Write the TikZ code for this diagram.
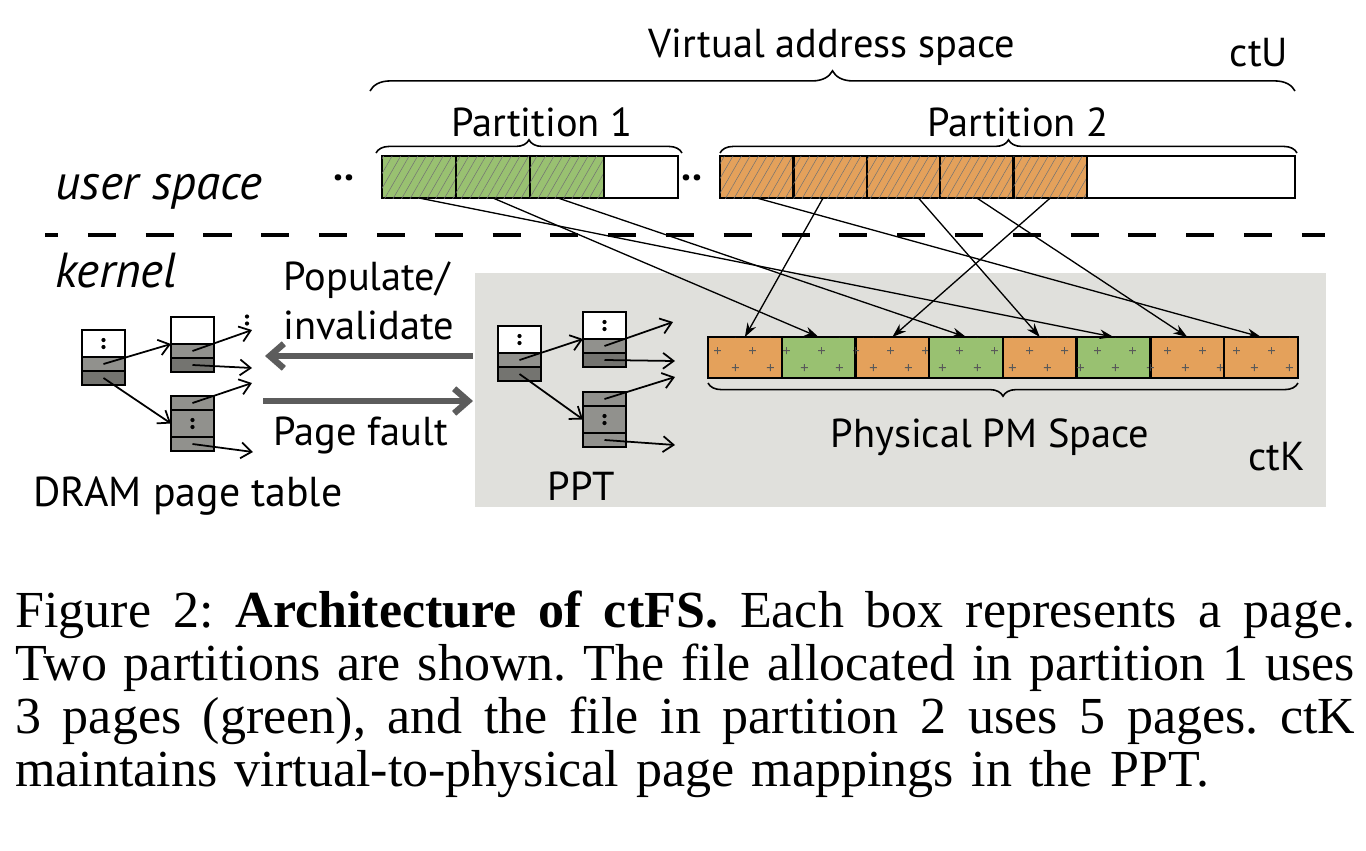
\documentclass[tikz,border=0pt]{standalone}
\usepackage{fontspec}
\setmainfont{PT Sans}
\newfontfamily\capfont{Liberation Serif}
\usetikzlibrary{positioning,arrows.meta,decorations.pathreplacing,patterns.meta}
\tikzset{>=latex}
\definecolor{pgreen}{RGB}{153,193,113}
\definecolor{porange}{RGB}{228,161,91}
\definecolor{kgray}{RGB}{224,224,220}
\definecolor{rowlight}{RGB}{145,145,141}
\definecolor{rowdark}{RGB}{116,116,112}
\definecolor{arrgray}{RGB}{92,92,92}
\newcommand{\capline}[1]{\makebox[26.8cm][s]{\spaceskip=0pt\xspaceskip=0pt #1}}
\tikzdeclarepattern{
  name=pluses, type=uncolored,
  bounding box={(0pt,0pt) and (19.7pt,19.3pt)},
  tile size={(19.7pt,19.3pt)},
  code={
    \draw[line width=0.5pt] (2.8pt,4.8pt) -- (6.8pt,4.8pt) (4.8pt,2.8pt) -- (4.8pt,6.8pt);
    \draw[line width=0.5pt] (12.65pt,14.45pt) -- (16.65pt,14.45pt) (14.65pt,12.45pt) -- (14.65pt,16.45pt);
  }
}

\begin{document}
\begin{tikzpicture}[x=0.02cm,y=-0.02cm]
    \fontsize{23}{27}\selectfont
    \tikzset{
    vpage/.style={draw, line width=1.4pt, minimum width=1.48cm, minimum height=0.84cm, inner sep=0pt, outer sep=0pt, anchor=north west},
    ppage/.style={draw, line width=1.4pt, minimum width=1.475cm, minimum height=0.82cm, inner sep=0pt, outer sep=0pt, anchor=north west, postaction={pattern=pluses, pattern color=black!65}},
    hatch/.style={postaction={pattern={Lines[angle=60,distance=4.2pt,line width=0.3pt]}, pattern color=black!55}},
    cell/.style={draw, line width=1.2pt, minimum width=0.86cm, minimum height=0.28cm, inner sep=0pt, outer sep=0pt},
    tall/.style={minimum height=0.54cm},
    ptr/.style={-{Straight Barb[length=6pt,width=9pt]}, line width=1pt},
    map/.style={-{Stealth[length=8pt,width=5.5pt]}, line width=0.75pt},
    bigarr/.style={draw=arrgray, line width=3.6pt, -{Straight Barb[length=8pt,width=14pt]}},
    bracebig/.style={decorate, decoration={brace, amplitude=11.5pt}, line width=0.9pt},
    bracesmall/.style={decorate, decoration={brace, amplitude=7.5pt}, line width=0.9pt},
    lbl/.style={anchor=base, inner sep=0pt},
    side/.style={lbl, anchor=base west, font=\fontsize{28}{32}\selectfont\itshape},
    }
    \useasboundingbox (0,0) rectangle (1366,850);
    \fill[white] (0,0) rectangle (1366,850);

    % Kernel area (ctK).
    \node[fill=kgray, minimum width=17.02cm, minimum height=4.68cm, inner sep=0pt, anchor=north west] (ctkarea) at (475,273) {};

    % User / kernel border.
    \draw[line width=2.8pt, dash pattern=on 16pt off 16.9pt, dash phase=8.5pt] (45,235) -- (1325,235);

    % Labels.
    \path (832,57)   node[lbl] (vas)   {Virtual address space};
    \path (1259,66)  node[lbl] (ctu)   {ctU};
    \path (542,136)  node[lbl] (part1) {Partition 1};
    \path (1018,136) node[lbl] (part2) {Partition 2};
    \path (55,199)   node[side] (user)  {user space};
    \path (55,287)   node[side] (kern)  {kernel};
    \path (344,180)  node[lbl] (dots1) {\textbf{..}};
    \path (692,180)  node[lbl] (dots2) {\textbf{..}};
    \path (283,290)  node[lbl, anchor=base west] (pop)   {Populate/};
    \path (283,339)  node[lbl, anchor=base west] (inval) {invalidate};
    \path (273,445)  node[lbl, anchor=base west] (pf)    {Page fault};
    \path (33,506)   node[lbl, anchor=base west, font=\fontsize{23.8}{27}\selectfont] (dram) {DRAM page table};
    \path (581,500)  node[lbl] (ppt)   {PPT};
    \path (990,447)  node[lbl] (pms)   {Physical PM Space};
    \path (1248,470) node[lbl, anchor=base west] (ctk)   {ctK};

    % Braces.
    \draw[bracebig]   (370,91)   -- (1295,91);
    \draw[bracesmall] (376,153)  -- (682,153);
    \draw[bracesmall] (720,153)  -- (1297,153);
    \draw[bracesmall] (1298,383) -- (708,383);

    % Partition 1 pages.
    \node[vpage, fill=pgreen, hatch] (p1a) at (382,156) {};
    \node[vpage, fill=pgreen, hatch, right=0pt of p1a] (p1b) {};
    \node[vpage, fill=pgreen, hatch, right=0pt of p1b] (p1c) {};
    \node[vpage, fill=white, right=0pt of p1c] (p1d) {};

    % Partition 2 pages.
    \node[vpage, fill=porange, hatch, minimum width=1.468cm] (p2a) at (720,156) {};
    \node[vpage, fill=porange, hatch, minimum width=1.468cm, right=0pt of p2a] (p2b) {};
    \node[vpage, fill=porange, hatch, minimum width=1.468cm, right=0pt of p2b] (p2c) {};
    \node[vpage, fill=porange, hatch, minimum width=1.468cm, right=0pt of p2c] (p2d) {};
    \node[vpage, fill=porange, hatch, minimum width=1.468cm, right=0pt of p2d] (p2e) {};
    \node[vpage, fill=white, minimum width=4.16cm, right=0pt of p2e] (p2f) {};

    % Physical PM pages.
    \node[ppage, fill=porange] (pm1) at (708,337) {};
    \node[ppage, fill=pgreen,  right=0pt of pm1] (pm2) {};
    \node[ppage, fill=porange, right=0pt of pm2] (pm3) {};
    \node[ppage, fill=pgreen,  right=0pt of pm3] (pm4) {};
    \node[ppage, fill=porange, right=0pt of pm4] (pm5) {};
    \node[ppage, fill=pgreen,  right=0pt of pm5] (pm6) {};
    \node[ppage, fill=porange, right=0pt of pm6] (pm7) {};
    \node[ppage, fill=porange, right=0pt of pm7] (pm8) {};

    % Virtual-to-physical mappings.
    \draw[map] (p1a.south) -- (pm6.north);
    \draw[map] (p1b.south) -- (pm2.north);
    \draw[map] ([xshift=-0.18cm]p1c.south) -- (pm4.north);
    \draw[map] (p2a.south) -- (pm8.north);
    \draw[map] ([xshift=-0.14cm]p2b.south) -- (pm1.north);
    \draw[map] ([xshift=0.3cm]p2c.south) -- (pm5.north);
    \draw[map] (p2d.south) -- (pm7.north);
    \draw[map] (p2e.south) -- (pm3.north);

    % DRAM page table.
    \node[cell, tall, fill=white, anchor=north west] (dr0) at (82,330) {};
    \node[cell, fill=rowlight, below=0pt of dr0] (dr1) {};
    \node[cell, fill=rowdark,  below=0pt of dr1] (dr2) {};
    \node[cell, tall, fill=white, anchor=north west] (du0) at (171,317) {};
    \node[cell, fill=rowlight, below=0pt of du0] (du1) {};
    \node[cell, fill=rowdark,  below=0pt of du1] (du2) {};
    \node[cell, fill=rowlight, anchor=north west] (dl1) at (171,396) {};
    \node[cell, tall, fill=rowlight, below=0pt of dl1] (dl0) {};
    \node[cell, fill=rowlight, below=0pt of dl0] (dl2) {};
    \coordinate (de1) at (252,330);
    \coordinate (de2) at (252,368);
    \coordinate (de3) at (252,383);
    \coordinate (de4) at (253,452);
    \coordinate (demore) at (247,320);
    \draw[ptr] (dr1.center) -- (du1.north west);
    \draw[ptr] (dr2.center) -- (dl0.west);
    \draw[ptr] (du1.center) -- (de1);
    \draw[ptr] (du2.center) -- (de2);
    \draw[ptr] (dl1.center) -- (de3);
    \draw[ptr] (dl2.center) -- (de4);

    % PPT.
    \node[cell, tall, fill=white, anchor=north west] (pr0) at (498,326) {};
    \node[cell, fill=rowlight, below=0pt of pr0] (pr1) {};
    \node[cell, fill=rowdark,  below=0pt of pr1] (pr2) {};
    \node[cell, tall, fill=white, anchor=north west] (pu0) at (583,312) {};
    \node[cell, fill=rowlight, below=0pt of pu0] (pu1) {};
    \node[cell, fill=rowdark,  below=0pt of pu1] (pu2) {};
    \node[cell, fill=rowlight, anchor=north west] (pl1) at (583,392) {};
    \node[cell, tall, fill=rowlight, below=0pt of pl1] (pl0) {};
    \node[cell, fill=rowlight, below=0pt of pl0] (pl2) {};
    \coordinate (pe1) at (673,322);
    \coordinate (pe2) at (675,361);
    \coordinate (pe3) at (675,377);
    \coordinate (pe4) at (675,445);
    \draw[ptr] (pr1.center) -- (pu1.north west);
    \draw[ptr] (pr2.center) -- (pl0.west);
    \draw[ptr] (pu1.center) -- (pe1);
    \draw[ptr] (pu2.center) -- (pe2);
    \draw[ptr] (pl1.center) -- (pe3);
    \draw[ptr] (pl2.center) -- (pe4);

    % Dots in the tables.
    \fill ([yshift=0.07cm]dr0.center) circle[radius=1.2pt] ([yshift=-0.07cm]dr0.center) circle[radius=1.2pt];
    \fill ([yshift=0.07cm]dl0.center) circle[radius=1.2pt] ([yshift=-0.07cm]dl0.center) circle[radius=1.2pt];
    \fill ([yshift=0.07cm]demore) circle[radius=1.2pt] ([yshift=-0.07cm]demore) circle[radius=1.2pt];
    \fill ([yshift=0.07cm]pr0.center) circle[radius=1.2pt] ([yshift=-0.07cm]pr0.center) circle[radius=1.2pt];
    \fill ([yshift=0.07cm]pu0.center) circle[radius=1.2pt] ([yshift=-0.07cm]pu0.center) circle[radius=1.2pt];
    \fill ([yshift=0.07cm]pl0.center) circle[radius=1.2pt] ([yshift=-0.07cm]pl0.center) circle[radius=1.2pt];

    % Populate/invalidate and page fault.
    \coordinate (popfrom) at (473,356);
    \coordinate (popto)   at (265,356);
    \coordinate (pffrom)  at (263,401);
    \coordinate (pfto)    at (473,401);
    \draw[bigarr] (popfrom) -- (popto);
    \draw[bigarr] (pffrom) -- (pfto);

    % Caption.
    \node[anchor=north west, inner sep=0pt, text width=26.8cm, align=left, font=\capfont\fontsize{29.6}{30}\selectfont\frenchspacing] (caption) at (15,591) {%
      \capline{Figure 2: \textbf{Architecture of ctFS.} Each box represents a page.}\\
      \capline{Two partitions are shown. The file allocated in partition 1 uses}\\
      \capline{3 pages (green), and the file in partition 2 uses 5 pages. ctK}\\
      maintains virtual-to-physical page mappings in the PPT.};
\end{tikzpicture}
\end{document}
